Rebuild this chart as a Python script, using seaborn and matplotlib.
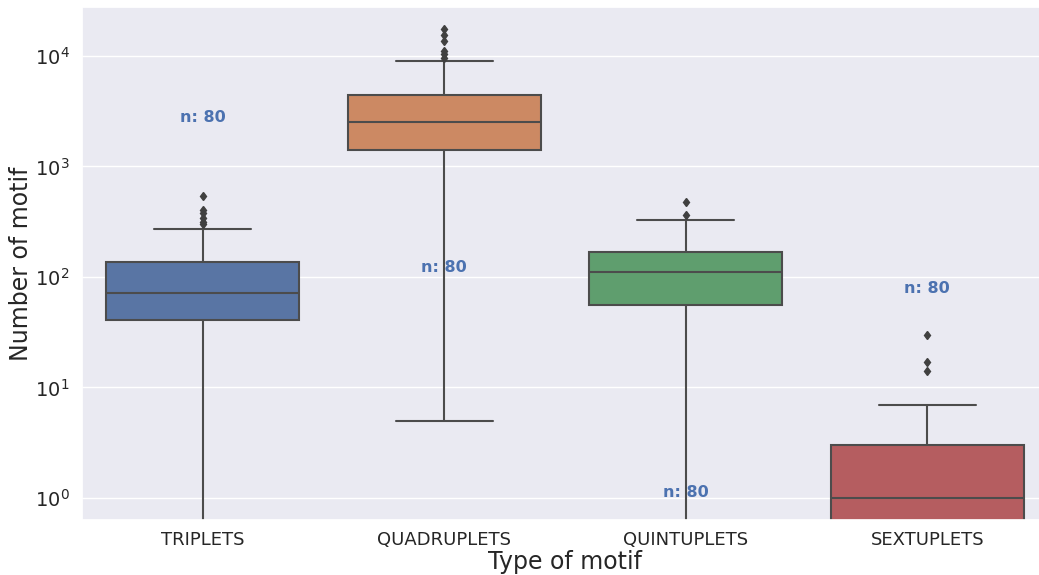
import numpy as np
import pandas as pd
import matplotlib
matplotlib.use("Agg")
import matplotlib.pyplot as plt
import seaborn as sns

# nombre de motifs par type
triplets = [0, 5, 12, 20, 28, 33, 37, 41, 46, 52, 57, 61, 65, 69, 72,
            80, 88, 95, 104, 113, 124, 136, 272, 300, 315, 340, 380, 400, 540]
quadruplets = [5, 60, 200, 450, 700, 950, 1200, 1395, 1550, 1700, 1900, 2050, 2200, 2350, 2500,
               2700, 2950, 3200, 3500, 3800, 4100, 4450, 9000, 9600, 10300, 11000, 13500, 15500, 17500]
quintuplets = [0, 4, 10, 18, 27, 38, 48, 56, 64, 72, 80, 89, 97, 104, 111,
               120, 128, 137, 146, 155, 162, 168, 185, 210, 240, 280, 330, 360, 475]
sextuplets = [0, 0, 0, 0, 0, 0, 0, 0, 0, 0, 0, 1, 1, 1, 1,
              1, 1, 2, 2, 2, 3, 3, 4, 5, 6, 7, 14, 17, 30]

categories = ["TRIPLETS", "QUADRUPLETS", "QUINTUPLETS", "SEXTUPLETS"]
nobs = ["n: 80", "n: 80", "n: 80", "n: 80"]

df = pd.DataFrame({
    "Type of motif": np.repeat(categories, [len(triplets), len(quadruplets), len(quintuplets), len(sextuplets)]),
    "Number of motif": triplets + quadruplets + quintuplets + sextuplets,
})

sns.set_theme(style="darkgrid")
fig = plt.figure(figsize=(10.39, 5.75), dpi=100)
ax = fig.add_axes([82 / 1039, 55 / 575, 966 / 1039, 513 / 575])

sns.boxplot(data=df, x="Type of motif", y="Number of motif", hue="Type of motif",
            order=categories, hue_order=categories, palette="deep", legend=False,
            linewidth=1.5, ax=ax,
            flierprops=dict(marker="d", markersize=4.5, markerfacecolor="0.25", markeredgecolor="0.25"))
ax.set_yscale("log")
ax.set_ylim(0.632, 27700)

# medianes (groupby trie par ordre alphabetique, d'ou le decalage des etiquettes)
medians = df.groupby("Type of motif")["Number of motif"].median().values
pos = range(len(categories))
for tick, label in zip(pos, ax.get_xticklabels()):
    ax.text(pos[tick], medians[tick] + 0.03, nobs[tick], ha="center", va="baseline",
            size=11.5, color="#4c72b0", weight="bold")

ax.tick_params(axis="x", labelsize=13, pad=2)
ax.tick_params(axis="y", labelsize=14, pad=3)
ax.set_xlabel("Type of motif", fontsize=17, labelpad=1)
ax.set_ylabel("Number of motif", fontsize=17, labelpad=1)

fig.savefig("out.png", dpi=100)
